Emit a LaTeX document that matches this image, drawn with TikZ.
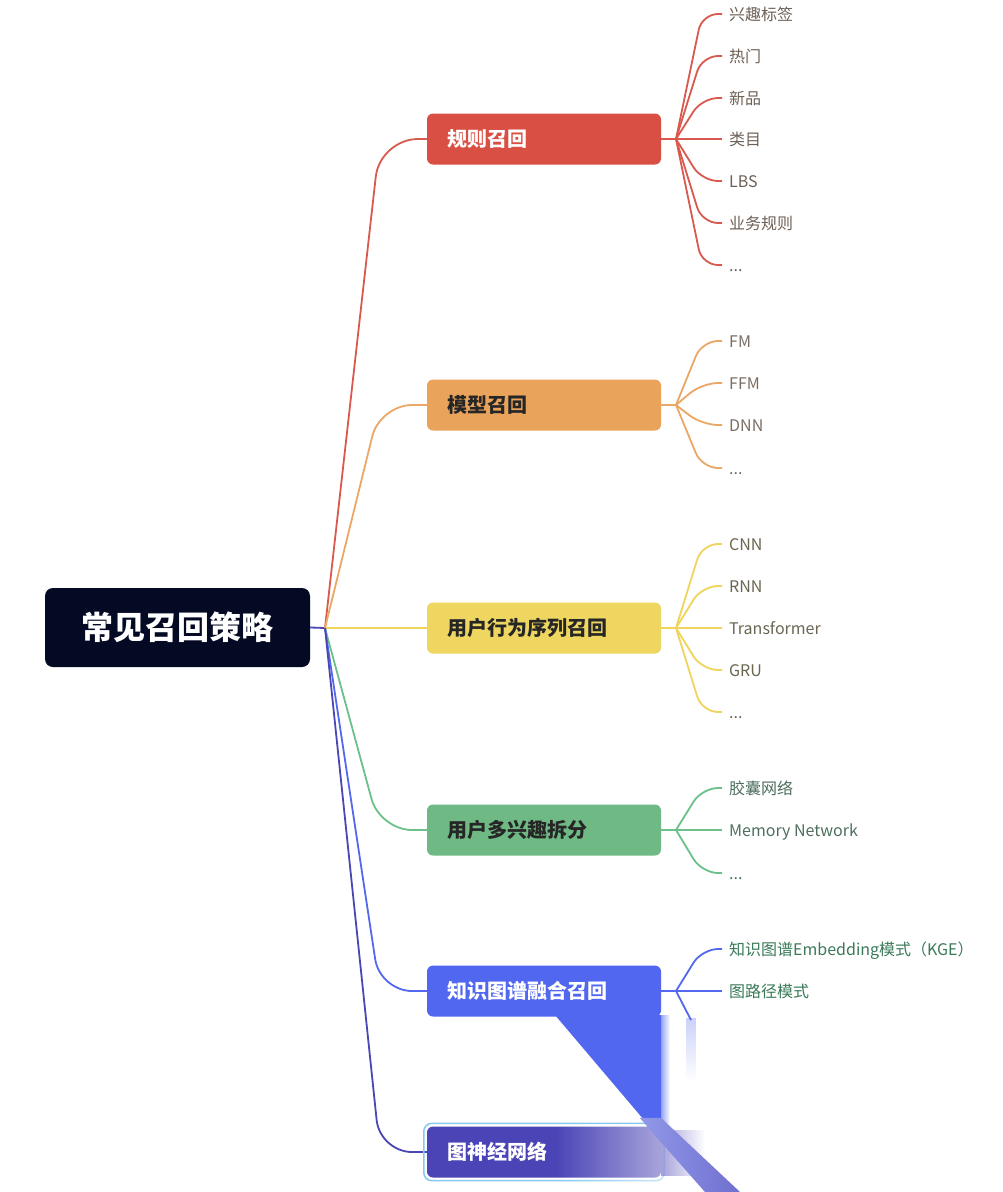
\documentclass[tikz,border=0pt]{standalone}
\usepackage{fontspec}
\setmainfont{Noto Sans CJK SC}
\usetikzlibrary{fadings}
\definecolor{rootc}{HTML}{050A24}
\definecolor{redc}{HTML}{DA4F43}
\definecolor{orangec}{HTML}{E9A35A}
\definecolor{yellowc}{HTML}{EED660}
\definecolor{greenc}{HTML}{6FBA84}
\definecolor{bluec}{HTML}{5267F0}
\definecolor{indigoc}{HTML}{4A44B6}
\definecolor{redl}{HTML}{D85A4E}
\definecolor{orangel}{HTML}{EBA766}
\definecolor{yellowl}{HTML}{F0D45C}
\definecolor{greenl}{HTML}{6CC08A}
\definecolor{bluel}{HTML}{5368EE}
\definecolor{indigol}{HTML}{4A46B4}
\definecolor{redt}{HTML}{6E6055}
\definecolor{oranget}{HTML}{7A6E64}
\definecolor{yellowt}{HTML}{6B6652}
\definecolor{greent}{HTML}{4E6F5E}
\definecolor{bluet}{HTML}{3A7A58}
\definecolor{selc}{HTML}{86C8F2}
\newcommand\leafdots{...}
\begin{document}
\begin{tikzpicture}[x=1pt,y=-1pt,
  rootbox/.style={rectangle, rounded corners=8pt, fill=rootc, text=white,
    minimum width=265pt, minimum height=79pt, inner sep=0pt,
    font=\fontsize{32}{38}\selectfont\bfseries},
  cbox/.style={rectangle, rounded corners=6pt, minimum height=51pt,
    text width=194pt, inner xsep=20pt, inner ysep=0pt, align=left,
    font=\fontsize{20}{24}\selectfont\bfseries},
  leaf/.style={anchor=west, inner xsep=7pt, inner ysep=0pt,
    text height=14pt, text depth=2pt, font=\fontsize{16}{19}\selectfont},
  link/.style={line width=1.8pt}]
\useasboundingbox (0,0) rectangle (1002,1192);
\fill[white] (0,0) rectangle (1002,1192);

% helper coordinates
\coordinate (br) at (325,628);
\coordinate (cx) at (380,0);
\coordinate (lx) at (702,0);

% root and children
\node[rootbox] (root) at (177.5,627.5) {常见召回策略};
\node[cbox, fill=redc, text=white] (c1) at (544,139) {规则召回};
\node[cbox, fill=orangec, text=black!85] (c2) at (544,405) {模型召回};
\node[cbox, fill=yellowc, text=black!85] (c3) at (544,628) {用户行为序列召回};
\node[cbox, fill=greenc, text=black!85] (c4) at (544,830) {用户多兴趣拆分};
\node[cbox, fill=bluec, text=white] (c5) at (544,991) {知识图谱融合召回};
\node[cbox, fill=indigoc, text=white] (c6) at (544,1152) {图神经网络};

% root to children
\draw[link, indigol] (root.east) -- (br);
\foreach \n/\col/\r in {c1/redl/38, c2/orangel/32, c3/yellowl/10, c4/greenl/32, c5/bluel/32, c6/indigol/32}
  \draw[link, \col, rounded corners=\r pt] (br) -- (cx |- \n.west) -- (\n.west);

% branch points for leaves
\coordinate (b1) at (676,139);
\coordinate (b2) at (676,405);
\coordinate (b3) at (676,628);
\coordinate (b4) at (676,830);
\coordinate (b5) at (676,991);
\draw[link, redl] (c1.east) -- (b1);
\draw[link, orangel] (c2.east) -- (b2);
\draw[link, yellowl] (c3.east) -- (b3);
\draw[link, greenl] (c4.east) -- (b4);
\draw[link, bluel] (c5.east) -- (b5);

% leaves: rule
\foreach \y/\t [count=\i] in {14/兴趣标签, 56/热门, 98/新品, 139/类目, 181/LBS, 223/业务规则, 265/\leafdots} {
  \node[leaf, text=redt] (ra\i) at (722,\y) {\t};
  \draw[link, redl, rounded corners=16pt] (b1) -- (lx |- ra\i.west) -- (ra\i.west);
}
% leaves: model
\foreach \y/\t [count=\i] in {341/FM, 383/FFM, 425/DNN, 468/\leafdots} {
  \node[leaf, text=oranget] (rb\i) at (722,\y) {\t};
  \draw[link, orangel, rounded corners=16pt] (b2) -- (lx |- rb\i.west) -- (rb\i.west);
}
% leaves: sequence
\foreach \y/\t [count=\i] in {544/CNN, 586/RNN, 628/Transformer, 670/GRU, 712/\leafdots} {
  \node[leaf, text=yellowt] (rc\i) at (722,\y) {\t};
  \draw[link, yellowl, rounded corners=16pt] (b3) -- (lx |- rc\i.west) -- (rc\i.west);
}
% leaves: multi-interest
\foreach \y/\t [count=\i] in {788/胶囊网络, 830/Memory Network, 873/\leafdots} {
  \node[leaf, text=greent] (rd\i) at (722,\y) {\t};
  \draw[link, greenl, rounded corners=16pt] (b4) -- (lx |- rd\i.west) -- (rd\i.west);
}
% leaves: knowledge graph
\foreach \y/\t [count=\i] in {949/知识图谱Embedding模式（KGE）, 991/图路径模式} {
  \node[leaf, text=bluet] (re\i) at (722,\y) {\t};
  \draw[link, bluel, rounded corners=16pt] (b5) -- (lx |- re\i.west) -- (re\i.west);
}
\coordinate (re3) at (691,1020);
\draw[link, bluel] (b5) -- (re3);
\fill[bluel, fill opacity=0.3, path fading=south] (686,1018) rectangle (696,1080);

% selection outline of the last child
\draw[selc, line width=1.5pt, rounded corners=8pt]
  ([xshift=-3pt,yshift=-3pt]c6.south west) rectangle ([xshift=3pt,yshift=3pt]c6.north east);

% motion-blur artefact
\fill[bluec] (555,1015) -- (661,1015) -- (661,1140) -- cycle;
\fill[bluec, fill opacity=0.6, path fading=east] (661,1015) rectangle (670,1130);
\fill[white, fill opacity=0.55, path fading=west] (555,1124) rectangle (668,1182);
\fill[indigoc!70!white, fill opacity=0.7, path fading=east] (661,1130) rectangle (705,1176);
\fill[indigoc!75!bluec!80!white] (640,1118) -- (661,1118) -- (740,1192) -- (705,1192) -- cycle;
\fill[bluec!50!white, fill opacity=0.6, path fading=east] (740,1192) -- (705,1192) -- (640,1118) -- (661,1118) -- cycle;
\end{tikzpicture}
\end{document}
